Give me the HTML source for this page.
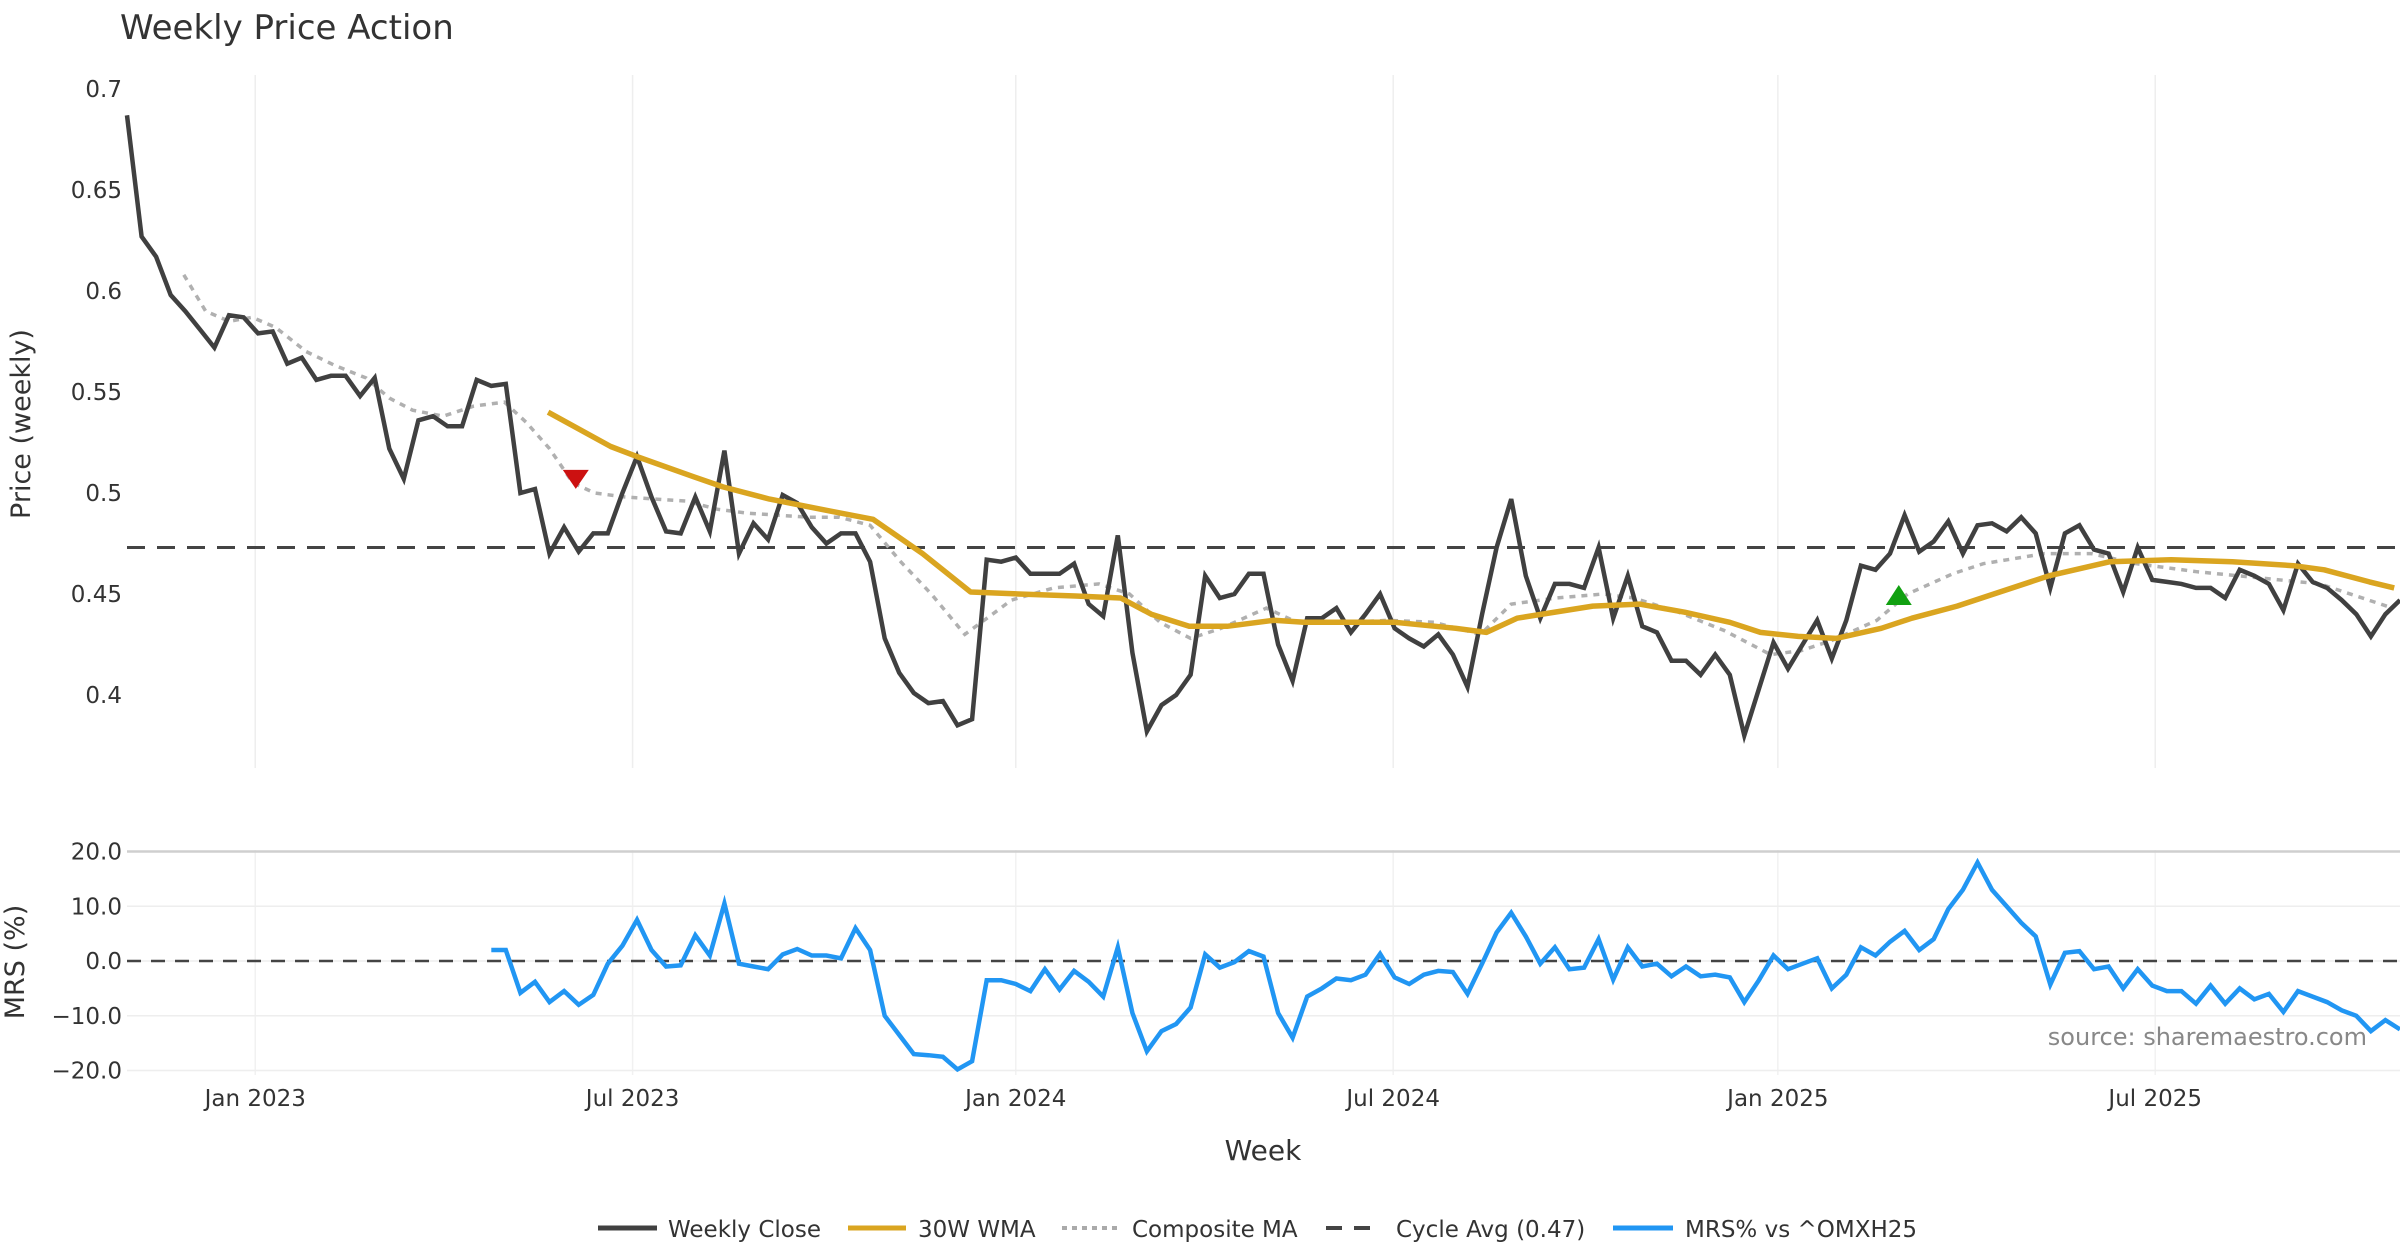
<!DOCTYPE html>
<html><head><meta charset="utf-8"><style>
html,body{margin:0;padding:0;background:#fff;}
svg{display:block;font-family:"DejaVu Sans","Liberation Sans",sans-serif;}
</style></head><body>
<svg id="chart" width="2400" height="1260" viewBox="0 0 2400 1260" xmlns="http://www.w3.org/2000/svg">
<text x="120" y="39" font-size="34" fill="#333">Weekly Price Action</text>
<g id="grid"></g><g id="series"></g><g id="axes"></g>
<text transform="translate(30,424) rotate(-90)" text-anchor="middle" font-size="27" fill="#333">Price (weekly)</text>
<text transform="translate(24,962) rotate(-90)" text-anchor="middle" font-size="27" fill="#333">MRS (%)</text>
<text x="1263" y="1160" text-anchor="middle" font-size="28" fill="#333">Week</text>
<text x="2367" y="1045" text-anchor="end" font-size="24" fill="#888">source: sharemaestro.com</text>
<g id="legend" font-size="23" fill="#333">
<g><line x1="598" y1="1228" x2="657" y2="1228" stroke="#404040" stroke-width="5"/><text x="668" y="1237">Weekly Close</text></g>
<g><line x1="848" y1="1228" x2="906" y2="1228" stroke="#DAA520" stroke-width="5"/><text x="918" y="1237">30W WMA</text></g>
<g><line x1="1062" y1="1228" x2="1118" y2="1228" stroke="#aaa" stroke-width="4" stroke-dasharray="5 5"/><text x="1132" y="1237">Composite MA</text></g>
<g><line x1="1326" y1="1228" x2="1370" y2="1228" stroke="#444" stroke-width="4" stroke-dasharray="16 12"/><text x="1396" y="1237">Cycle Avg (0.47)</text></g>
<g><line x1="1613" y1="1228" x2="1673" y2="1228" stroke="#2196F3" stroke-width="5"/><text x="1685" y="1237">MRS% vs ^OMXH25</text></g>
</g>
</svg>
<script>
const closes=[0.687,0.627,0.617,0.598,0.59,0.581,0.572,0.588,0.587,
0.579,0.580,0.564,0.567,0.556,0.558,0.558,0.548,0.557,0.522,
0.507,0.536,0.538,0.533,0.533,0.556,0.553,0.554,0.500,0.502,
0.470,0.483,0.471,0.480,0.480,0.500,0.518,0.498,0.481,0.480,
0.498,0.481,0.521,0.470,0.485,0.477,0.499,0.495,0.483,0.475,
0.480,0.480,0.466,0.428,0.411,0.401,0.396,0.397,0.385,0.388,
0.467,0.466,0.468,0.460,0.460,0.460,0.465,0.445,0.439,0.479,
0.421,0.382,0.395,0.400,0.410,0.459,0.448,0.450,0.460,0.460,
0.425,0.407,0.438,0.438,0.443,0.431,0.440,0.450,0.433,0.428,
0.424,0.430,0.420,0.404,0.440,0.473,0.497,0.459,0.438,0.455,
0.455,0.453,0.473,0.438,0.459,0.434,0.431,0.417,0.417,0.410,
0.420,0.410,0.380,0.403,0.426,0.413,0.425,0.437,0.418,0.437,
0.464,0.462,0.470,0.489,0.471,0.476,0.486,0.470,0.484,0.485,
0.481,0.488,0.480,0.453,0.480,0.484,0.472,0.470,0.451,0.473,
0.457,0.456,0.455,0.453,0.453,0.448,0.462,0.459,0.455,0.442,
0.465,0.456,0.453,0.447,0.440,0.429,0.440,0.447];
const wmaWeeks=[28.9,33.2,35.0,38.9,40.9,44.1,48.3,51.2,54.6,57.9,61.2,65.1,68.2,70.3,72.9,75.5,78.7,80.8,83.9,87.0,91.2,93.3,95.4,100.6,103.8,106.9,110.0,112.1,114.7,117.3,120.4,122.5,125.6,127.7,131.9,136.1,140.3,144.5,148.7,150.8,153.9,155.6];
const wmaValues=[0.540,0.523,0.518,0.508,0.503,0.497,0.491,0.487,0.470,0.451,0.450,0.449,0.448,0.440,0.434,0.434,0.437,0.436,0.436,0.436,0.433,0.431,0.438,0.444,0.445,0.441,0.436,0.431,0.429,0.428,0.433,0.438,0.444,0.449,0.459,0.466,0.467,0.466,0.464,0.462,0.456,0.453];
const compWeeks=[3.9,5.4,7.0,8.6,10.2,12.3,14.3,16.4,18,19.6,21.7,23.8,25.9,27.4,29,30.6,32.1,34.2,36.3,38.4,40.5,42.6,44.7,46.8,48.9,51,53.1,55.2,57.5,59.4,60.7,63.6,66.7,68.8,70.9,73,75.1,78.2,80.3,83.5,86.6,89.7,92.9,95,98.1,101.3,103.4,106.5,109.6,112.8,114.9,117,120.1,122.2,125.3,127.4,131.6,134.8,137.9,142.1,146.3,150.5,155.5];
const compValues=[0.608,0.59,0.585,0.587,0.582,0.570,0.563,0.557,0.547,0.541,0.538,0.543,0.545,0.535,0.522,0.505,0.500,0.498,0.497,0.496,0.492,0.490,0.489,0.488,0.488,0.484,0.466,0.450,0.430,0.440,0.447,0.453,0.455,0.450,0.436,0.428,0.433,0.443,0.436,0.436,0.437,0.436,0.430,0.445,0.448,0.450,0.448,0.441,0.432,0.420,0.422,0.427,0.437,0.450,0.460,0.465,0.470,0.470,0.465,0.461,0.458,0.455,0.443];
const cycleAvg=0.473;
const mrsStart=25;
const mrs=[2.0,2.0,-5.8,-3.8,-7.5,-5.5,-8,-6.2,-0.5,2.8,7.5,2.0,-1.0,-0.8,4.7,1.0,10.5,-0.5,-1.0,-1.5,1.2,2.2,1.0,1.0,0.5,6.0,2.0,-10,-13.5,-17,-17.2,-17.5,-19.8,-18.3,-3.5,-3.5,-4.2,-5.5,-1.5,-5.2,-1.8,-3.8,-6.5,2.5,-9.5,-16.5,-12.8,-11.5,-8.5,1.2,-1.2,-0.2,1.8,0.8,-9.5,-14.0,-6.5,-5.0,-3.2,-3.5,-2.5,1.3,-3.0,-4.2,-2.5,-1.8,-2.0,-6.0,-0.5,5.2,8.8,4.5,-0.5,2.5,-1.5,-1.2,4.0,-3.4,2.5,-1.0,-0.5,-2.8,-1.0,-2.8,-2.5,-3.0,-7.5,-3.5,1.0,-1.5,-0.5,0.5,-5.0,-2.5,2.5,1.0,3.5,5.5,2.0,4.0,9.5,13.0,18.0,13.0,10.0,7.0,4.5,-4.3,1.5,1.8,-1.5,-1.0,-5.0,-1.5,-4.5,-5.5,-5.5,-7.8,-4.5,-7.8,-5.0,-7.0,-6.0,-9.3,-5.5,-6.5,-7.5,-9.0,-10.0,-12.8,-10.8,-12.5];
const sellSignal={week:30.8,value:0.507};
const buySignal={week:121.6,value:0.449};
const priceTicks=[0.4,0.45,0.5,0.55,0.6,0.65,0.7];
const priceTickLabels=["0.4","0.45","0.5","0.55","0.6","0.65","0.7"];
const mrsTicks=[-20,-10,0,10,20];
const mrsTickLabels=["\u221220.0","\u221210.0","0.0","10.0","20.0"];
const dateTickWeeks=[8.8,34.7,61.0,86.9,113.3,139.2];
const dateTickLabels=["Jan 2023","Jul 2023","Jan 2024","Jul 2024","Jan 2025","Jul 2025"];

const NS="http://www.w3.org/2000/svg";
const X0=127,X1=2400,N=closes.length;
const xs=w=>X0+w*(X1-X0)/(N-1);
const yp=v=>89+(0.7-v)*(695-89)/0.3;
const ym=v=>961-v*(219/40);
function mk(tag,attrs,parent){const e=document.createElementNS(NS,tag);for(const k in attrs)e.setAttribute(k,attrs[k]);parent.appendChild(e);return e;}
const grid=document.getElementById('grid'),ser=document.getElementById('series'),ax=document.getElementById('axes');
dateTickWeeks.forEach((w,i)=>{
  const g1=mk('line',{x1:xs(w),x2:xs(w),y1:75,y2:768,stroke:'#eeeeee','stroke-width':1.5},grid);
  
  
  const g2=mk('line',{x1:xs(w),x2:xs(w),y1:850,y2:1075,stroke:'#f1f1f1','stroke-width':1.5},grid);
  
  
  const t=mk('text',{x:xs(w),y:1106,'text-anchor':'middle','font-size':23,fill:'#333'},ax);
  t.textContent=dateTickLabels[i];
  
  
});
priceTicks.forEach((v,i)=>{
  const t=mk('text',{x:122,y:yp(v)+8,'text-anchor':'end','font-size':23,fill:'#333'},ax);
  t.textContent=priceTickLabels[i];
  
  
});
mrsTicks.forEach((v,i)=>{
  const g=mk('line',{x1:X0,x2:X1,y1:ym(v),y2:ym(v),stroke:v===20?'#cfcfcf':'#eeeeee','stroke-width':v===20?2.5:1.5},grid);
  
  
  const t=mk('text',{x:122,y:ym(v)+8,'text-anchor':'end','font-size':23,fill:'#333'},ax);
  t.textContent=mrsTickLabels[i];
  
  
});
function path(pts){return pts.map((p,i)=>(i?'L':'M')+p[0].toFixed(1)+' '+p[1].toFixed(1)).join(' ');}
const cyc=mk('line',{x1:X0,x2:X1,y1:yp(cycleAvg),y2:yp(cycleAvg),stroke:'#444','stroke-width':3,'stroke-dasharray':'18 12'},ser);


const comp=mk('path',{d:path(compWeeks.map((w,i)=>[xs(w),yp(compValues[i])])),fill:'none',stroke:'#b0b0b0','stroke-width':3.5,'stroke-dasharray':'6 6'},ser);


const cl=mk('path',{d:path(closes.map((v,i)=>[xs(i),yp(v)])),fill:'none',stroke:'#404040','stroke-width':4.5,'stroke-linejoin':'miter'},ser);


const wm=mk('path',{d:path(wmaWeeks.map((w,i)=>[xs(w),yp(wmaValues[i])])),fill:'none',stroke:'#DAA520','stroke-width':5.5,'stroke-linejoin':'round'},ser);


const sx=xs(sellSignal.week),sy=yp(sellSignal.value);
const sell=mk('path',{d:`M${sx-13} ${sy-9} L${sx+13} ${sy-9} L${sx} ${sy+10} Z`,fill:'#CC1111'},ser);


const bx=xs(buySignal.week),by=yp(buySignal.value);
const buy=mk('path',{d:`M${bx-13} ${by+9} L${bx+13} ${by+9} L${bx} ${by-11} Z`,fill:'#11A011'},ser);


const z=mk('line',{x1:X0,x2:X1,y1:ym(0),y2:ym(0),stroke:'#444','stroke-width':2.5,'stroke-dasharray':'14 10'},ser);


const m=mk('path',{d:path(mrs.map((v,i)=>[xs(mrsStart+i),ym(v)])),fill:'none',stroke:'#2196F3','stroke-width':4.5},ser);


</script>
</body></html>
